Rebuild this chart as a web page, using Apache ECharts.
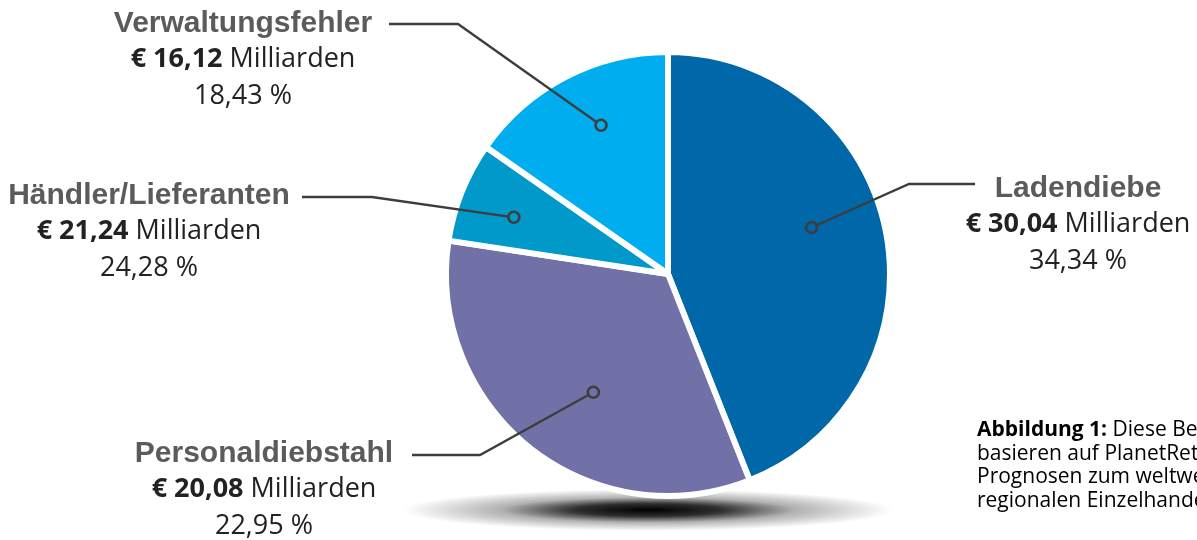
<!DOCTYPE html>
<html>
<head>
<meta charset="utf-8">
<script src="https://cdn.jsdelivr.net/npm/echarts@6/dist/echarts.min.js"></script>
<style>
  html, body { margin: 0; padding: 0; background: #fff; }
  #chart { width: 1197px; height: 540px; }
</style>
</head>
<body>
<div id="chart"></div>
<script>
// slice data (slice sizes as drawn in the picture, labels as printed)
var categories = ['Ladendiebe', 'Personaldiebstahl', 'Händler/Lieferanten', 'Verwaltungsfehler'];
var sliceShares = [44.0, 33.4, 7.3, 15.3];
var amountLabels = ['€ 30,04', '€ 20,08', '€ 21,24', '€ 16,12'];
var percentLabels = ['34,34 %', '22,95 %', '24,28 %', '18,43 %'];

var colors = ['#0067a8', '#7271a7', '#0099c9', '#00aeef'];

// layout of the pie and the callouts
var pieCenter = [668, 274];
var pieRadius = 222;
var labelAnchor = [[1078, 170], [264, 435], [149, 177], [243, 5]];
var elbow = [[909, 184, 975], [480, 455, 412], [372, 197, 302], [458, 24, 389]];
var dotPlace = [[0.455, 0.68], [0.448, 0.63], [0.44, 0.74], [0.56, 0.735]];

function dotPoint(i) {
    var total = sliceShares.reduce(function (a, b) { return a + b; }, 0);
    var start = 0;
    for (var k = 0; k < i; k++) start += sliceShares[k];
    var ang = (start + sliceShares[i] * dotPlace[i][0]) / total * 2 * Math.PI;
    var r = pieRadius * dotPlace[i][1];
    return [pieCenter[0] + r * Math.sin(ang), pieCenter[1] - r * Math.cos(ang)];
}

function init() {
    var myChart = echarts.init(document.getElementById('chart'));

    var pieData = categories.map(function (name, i) {
        return { name: name, value: sliceShares[i], itemStyle: { color: colors[i] } };
    });

    // leader lines + hollow dots on top of the slices
    var callouts = [];
    categories.forEach(function (name, i) {
        var p = dotPoint(i);
        var e = elbow[i];
        callouts.push({
            type: 'polyline',
            z: 50,
            shape: { points: [p, [e[0], e[1]], [e[2], e[1]]] },
            style: { stroke: '#3d3d3d', lineWidth: 2.3, fill: null }
        });
        callouts.push({
            type: 'circle',
            z: 51,
            shape: { cx: p[0], cy: p[1], r: 5.5 },
            style: { fill: colors[i], stroke: '#3d3d3d', lineWidth: 2.6 }
        });
    });

    myChart.setOption({
        animation: false,
        backgroundColor: '#fff',
        graphic: [
            {
                type: 'circle',
                z: 0,
                x: 648,
                y: 510,
                scaleY: 0.085,
                shape: { cx: 0, cy: 0, r: 245 },
                style: {
                    fill: {
                        type: 'radial', x: 0.5, y: 0.5, r: 0.5,
                        colorStops: [
                            { offset: 0, color: 'rgba(0,0,0,1)' },
                            { offset: 0.3, color: 'rgba(0,0,0,0.82)' },
                            { offset: 0.6, color: 'rgba(0,0,0,0.3)' },
                            { offset: 1, color: 'rgba(0,0,0,0)' }
                        ]
                    }
                }
            },
            {
                type: 'text',
                z: 10,
                left: 977,
                top: 420,
                style: {
                    text: '{b|Abbildung 1:}{r| Diese Berechnungen}\n{r|basieren auf PlanetRetail-}\n{r|Prognosen zum weltweiten}\n{r|regionalen Einzelhandel}',
                    rich: {
                        b: { fontFamily: 'Open Sans', fontSize: 21, fontWeight: 'bold', color: '#3a3a3a', lineHeight: 23.5 },
                        r: { fontFamily: 'Open Sans', fontSize: 21, color: '#555', lineHeight: 23.5 }
                    }
                }
            }
        ].concat(callouts),
        series: [
            {
                type: 'pie',
                center: pieCenter,
                radius: pieRadius,
                startAngle: 90,
                clockwise: true,
                avoidLabelOverlap: false,
                emphasis: { disabled: true },
                itemStyle: { borderColor: '#fff', borderWidth: 6 },
                data: pieData,
                label: {
                    show: true,
                    position: 'outside',
                    width: 360,
                    overflow: 'none',
                    formatter: function (p) {
                        var i = p.dataIndex;
                        return '{t|' + categories[i] + '}\n{b|' + amountLabels[i] + ' }{r|Milliarden}\n{r|' + percentLabels[i] + '}';
                    },
                    rich: {
                        t: { fontFamily: 'Liberation Sans', fontWeight: 'bold', fontSize: 30, color: '#5b5b5b', lineHeight: 36.5, align: 'center' },
                        b: { fontFamily: 'Open Sans', fontWeight: 'bold', fontSize: 27, color: '#222', lineHeight: 36.5, align: 'center' },
                        r: { fontFamily: 'Open Sans', fontSize: 27, color: '#222', lineHeight: 36.5, align: 'center' }
                    }
                },
                labelLine: { show: false },
                labelLayout: function (params) {
                    var i = params.dataIndex;
                    return {
                        x: labelAnchor[i][0],
                        y: labelAnchor[i][1],
                        align: 'center',
                        verticalAlign: 'top'
                    };
                }
            }
        ]
    });
}

document.addEventListener("DOMContentLoaded", function (event) {
    init();
});
</script>
</body>
</html>
